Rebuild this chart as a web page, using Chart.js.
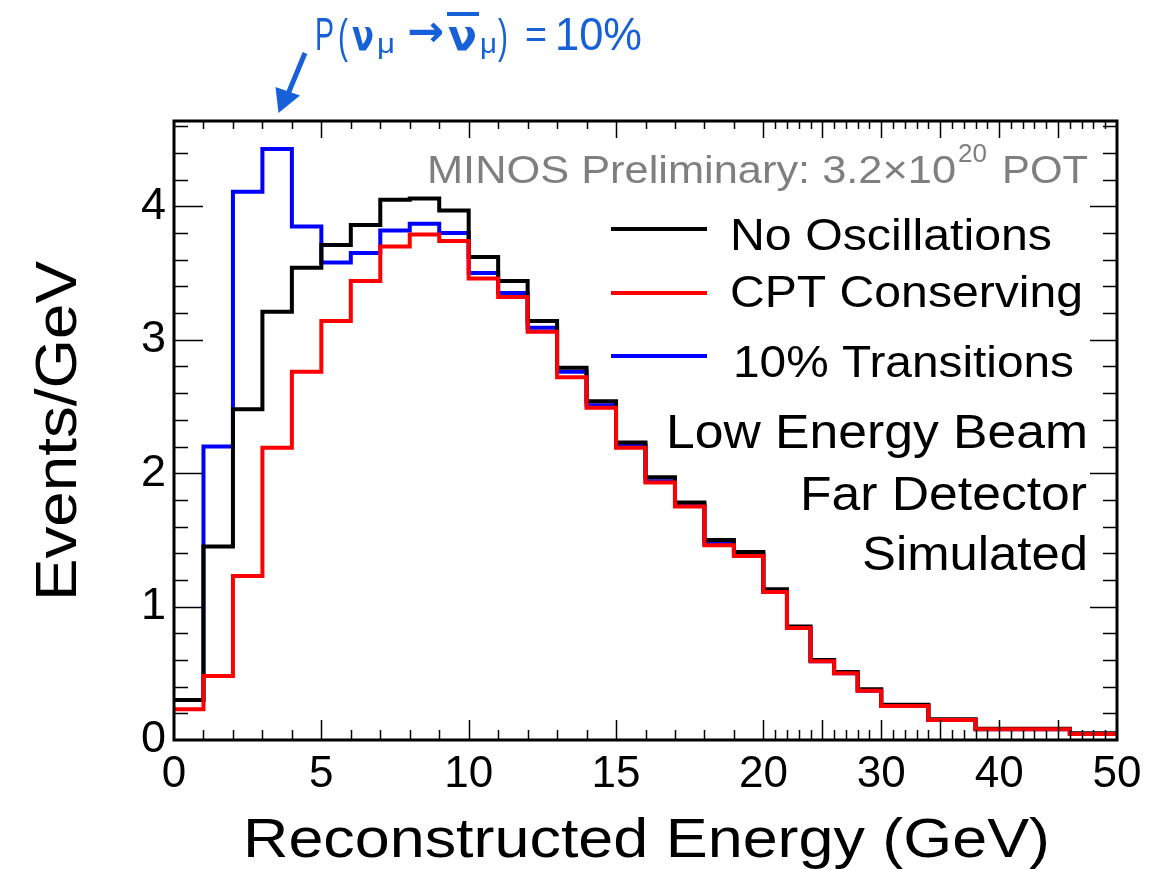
<!DOCTYPE html>
<html>
<head>
<meta charset="utf-8">
<title>Reconstructed Energy</title>
<script src="https://cdn.jsdelivr.net/npm/chart.js@4.4.1/dist/chart.umd.min.js"></script>
<style>
  html, body { margin: 0; padding: 0; background: #fff; }
  #wrap { width: 1165px; height: 869px; }
</style>
</head>
<body>
<div id="wrap"><canvas id="mycanvas" width="1165" height="869"></canvas></div>
<script>
// bin edges in GeV (1 GeV up to 20, coarser above)
var binEdges = [0, 1, 2, 3, 4, 5, 6, 7, 8, 9, 10, 11, 12, 13, 14, 15, 16, 17, 18, 19, 20,
                22, 24, 26, 28, 30, 34, 38, 46, 50];

// events/GeV per bin
var noOscillations = [0.30, 1.45, 2.48, 3.21, 3.54, 3.71, 3.86, 4.05, 4.06, 3.97,
                      3.62, 3.44, 3.14, 2.79, 2.54, 2.23, 1.97, 1.78, 1.50, 1.41,
                      1.13, 0.85, 0.60, 0.51, 0.38, 0.265, 0.155, 0.085, 0.05];
var cptConserving = [0.23, 0.48, 1.23, 2.19, 2.76, 3.14, 3.44, 3.70, 3.79, 3.74,
                     3.46, 3.32, 3.06, 2.72, 2.49, 2.19, 1.93, 1.75, 1.46, 1.38,
                     1.11, 0.84, 0.59, 0.50, 0.37, 0.255, 0.15, 0.08, 0.045];
var transitions = [0.30, 2.20, 4.11, 4.43, 3.85, 3.58, 3.65, 3.82, 3.87, 3.80,
                   3.50, 3.35, 3.09, 2.76, 2.51, 2.21, 1.94, 1.76, 1.47, 1.39,
                   1.11, 0.84, 0.59, 0.50, 0.37, 0.255, 0.15, 0.08, 0.045];

var xTickLabels = [0, 5, 10, 15, 20, 30, 40, 50];
var yTickLabels = [0, 1, 2, 3, 4];

var legendNames = ['No Oscillations', 'CPT Conserving', '10% Transitions'];
var legendColors = ['#000000', '#ff0000', '#0000ff'];

// above 20 GeV the axis is squeezed
var SQUEEZE = 0.4;
function toAxis(e) {
  return e <= 20 ? e : 20 + (e - 20) * SQUEEZE;
}
function fromAxis(u) {
  return u <= 20 ? u : 20 + (u - 20) / SQUEEZE;
}

function histPoints(values) {
  var pts = [];
  for (var i = 0; i < values.length; i++) {
    pts.push({ x: toAxis(binEdges[i]), y: values[i] });
  }
  pts.push({ x: toAxis(binEdges[binEdges.length - 1]), y: values[values.length - 1] });
  return pts;
}

var FONT = '"Liberation Sans", Arial, Helvetica, sans-serif';
var SYMBOL_FONT = '"DejaVu Sans", sans-serif';

// draw text squeezed/stretched to a given width
function fitText(ctx, text, x, y, width, size, color, weight, family) {
  ctx.save();
  ctx.font = (weight || 'normal') + ' ' + size + 'px ' + (family || FONT);
  ctx.fillStyle = color;
  ctx.textBaseline = 'alphabetic';
  ctx.textAlign = 'left';
  var w = ctx.measureText(text).width;
  ctx.translate(x, y);
  ctx.scale(width / w, 1);
  ctx.fillText(text, 0, 0);
  ctx.restore();
}

var framePlugin = {
  id: 'frame',
  afterDatasetsDraw: function(chart) {
    var ctx = chart.ctx;
    var a = chart.chartArea;
    var xs = chart.scales.x;
    var ys = chart.scales.y;

    ctx.save();
    ctx.strokeStyle = '#000';
    ctx.lineCap = 'butt';

    // inward ticks, x every GeV
    ctx.lineWidth = 1.5;
    for (var e = 1; e < 50; e++) {
      var px = Math.round(xs.getPixelForValue(toAxis(e))) + 0.5;
      var major = e % 5 === 0;
      ctx.beginPath();
      ctx.moveTo(px, a.bottom);
      ctx.lineTo(px, a.bottom - (major ? 20 : 10));
      ctx.moveTo(px, a.top);
      ctx.lineTo(px, a.top + (major ? 17 : 8));
      ctx.stroke();
    }
    // y ticks every 0.2
    for (var k = 1; k <= 23; k++) {
      var v = k * 0.2;
      var py = Math.round(ys.getPixelForValue(v)) + 0.5;
      var maj = k % 5 === 0;
      ctx.beginPath();
      ctx.moveTo(a.left, py);
      ctx.lineTo(a.left + (maj ? 29 : 14), py);
      ctx.moveTo(a.right, py);
      ctx.lineTo(a.right - (maj ? 27 : 14), py);
      ctx.stroke();
    }

    // frame
    ctx.lineWidth = 3;
    ctx.strokeRect(a.left, a.top, a.right - a.left, a.bottom - a.top);

    // statistics note
    fitText(ctx, 'MINOS Preliminary: 3.2\u00d710', 427, 183, 529, 39, '#7f7f7f');
    fitText(ctx, '20', 958, 162, 29, 26, '#7f7f7f');
    fitText(ctx, 'POT', 1002, 183, 86, 39, '#7f7f7f');

    // legend
    var legY = [229, 293, 356];
    var legBase = [250, 307, 377];
    var legX = [730, 730, 733];
    var legW = [322, 353, 341];
    for (var i = 0; i < legendNames.length; i++) {
      ctx.strokeStyle = legendColors[i];
      ctx.lineWidth = 4;
      ctx.beginPath();
      ctx.moveTo(611, legY[i]);
      ctx.lineTo(707, legY[i]);
      ctx.stroke();
      fitText(ctx, legendNames[i], legX[i], legBase[i], legW[i], 45, '#000');
    }

    fitText(ctx, 'Low Energy Beam', 666, 448, 422, 48, '#000');
    fitText(ctx, 'Far Detector', 800, 510, 287, 48, '#000');
    fitText(ctx, 'Simulated', 862, 570, 226, 48, '#000');

    // axis titles
    fitText(ctx, 'Reconstructed Energy (GeV)', 243, 857, 807, 56, '#000');
    ctx.save();
    ctx.translate(76, 601);
    ctx.rotate(-Math.PI / 2);
    fitText(ctx, 'Events/GeV', 0, 0, 340, 57, '#000');
    ctx.restore();

    // transition probability note with arrow
    var blue = '#1660d8';
    fitText(ctx, 'P', 315, 50, 19, 46, blue);
    fitText(ctx, '(', 338, 52, 10, 46, blue);
    fitText(ctx, '\u03bd', 352, 50, 22, 42, blue, 'bold', SYMBOL_FONT);
    fitText(ctx, '\u03bc', 377, 53, 18, 28, blue);
    fitText(ctx, '\u2192', 407, 46, 37, 44, blue, 'bold', SYMBOL_FONT);
    fitText(ctx, '\u03bd', 448, 50, 29, 42, blue, 'bold', SYMBOL_FONT);
    ctx.fillStyle = blue;
    ctx.fillRect(447, 12, 32, 4);
    fitText(ctx, '\u03bc', 480, 53, 17, 28, blue);
    fitText(ctx, ')', 498, 52, 10, 46, blue);
    fitText(ctx, '=', 525, 48, 22, 40, blue);
    fitText(ctx, '10%', 555, 50, 87, 46, blue);

    ctx.strokeStyle = blue;
    ctx.lineWidth = 5;
    ctx.beginPath();
    ctx.moveTo(305, 53);
    ctx.lineTo(288, 94);
    ctx.stroke();
    ctx.beginPath();
    ctx.moveTo(278.5, 113);
    ctx.lineTo(275.5, 87);
    ctx.lineTo(300, 95.5);
    ctx.closePath();
    ctx.fill();

    ctx.restore();
  }
};

var chartdata = {
  datasets: [
    {
      label: legendNames[1],
      data: histPoints(cptConserving),
      borderColor: legendColors[1],
      order: 0
    },
    {
      label: legendNames[0],
      data: histPoints(noOscillations),
      borderColor: legendColors[0],
      order: 1
    },
    {
      label: legendNames[2],
      data: histPoints(transitions),
      borderColor: legendColors[2],
      order: 2
    }
  ]
};

chartdata.datasets.forEach(function(ds) {
  ds.stepped = true;
  ds.borderWidth = 4;
  ds.pointRadius = 0;
  ds.fill = false;
  ds.borderJoinStyle = 'miter';
  ds.borderCapStyle = 'butt';
});

var ctx = document.getElementById('mycanvas');

var histChart = new Chart(ctx, {
  type: 'line',
  data: chartdata,
  options: {
    responsive: false,
    animation: false,
    devicePixelRatio: 1,
    layout: { padding: { top: 121, right: 48, left: 0, bottom: 0 } },
    plugins: {
      legend: { display: false },
      tooltip: { enabled: false }
    },
    scales: {
      x: {
        type: 'linear',
        min: 0,
        max: toAxis(50),
        grid: { display: false, drawTicks: false },
        border: { display: false },
        afterBuildTicks: function(scale) {
          scale.ticks = xTickLabels.map(function(e) { return { value: toAxis(e) }; });
        },
        afterFit: function(scale) { scale.height = 869 - 740; },
        ticks: {
          color: '#000',
          padding: 8,
          maxRotation: 0,
          autoSkip: false,
          font: { family: FONT, size: 44 },
          callback: function(value) { return String(Math.round(fromAxis(value))); }
        }
      },
      y: {
        type: 'linear',
        min: 0,
        max: 4.64,
        grid: { display: false, drawTicks: false },
        border: { display: false },
        afterBuildTicks: function(scale) {
          scale.ticks = yTickLabels.map(function(v) { return { value: v }; });
        },
        afterFit: function(scale) { scale.width = 174; },
        ticks: {
          color: '#000',
          padding: 8,
          font: { family: FONT, size: 45 }
        }
      }
    }
  },
  plugins: [framePlugin]
});
</script>
</body>
</html>
